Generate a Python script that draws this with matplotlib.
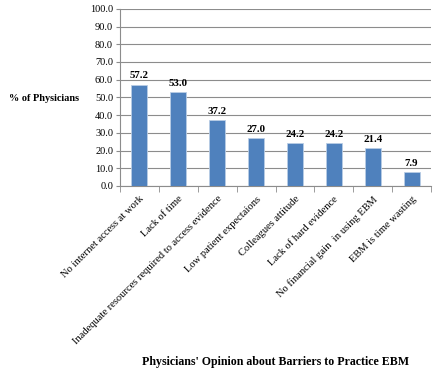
import matplotlib
matplotlib.use("Agg")
import matplotlib.pyplot as plt
import numpy as np

plt.rcParams['font.family'] = ['Liberation Serif', 'DejaVu Serif']

barriers = ["No internet access at work", "Lack of time",
            "Inadequate resources required to access evidence",
            "Low patient expectaions", "Colleagues attitude",
            "Lack of hard evidence", "No financial gain  in using EBM",
            "EBM is time wasting"]
percent = [57.2, 53.0, 37.2, 27.0, 24.2, 24.2, 21.4, 7.9]
yticks = np.arange(0, 101, 10)

fig = plt.figure(figsize=(4.38, 3.69), dpi=100)
ax = fig.add_axes([0.274, 0.496, 0.71, 0.480])

x = np.arange(len(barriers))
bars = ax.bar(x, percent, width=0.41, color="#4F81BD", edgecolor="#B9CDE5",
              linewidth=0.6, zorder=3)
for xi, v in zip(x, percent):
    ax.text(xi, v + 2.5, "%.1f" % v, ha="center", va="bottom",
            fontsize=7.8, fontweight="bold")

ax.set_xlim(-0.5, len(barriers) - 0.5)
ax.set_ylim(0, 100)
ax.set_yticks(yticks)
ax.set_yticklabels(["%.1f" % t for t in yticks], fontsize=7.5)
ax.yaxis.grid(True, color="#8C8C8C", linewidth=0.8, zorder=0)
ax.set_axisbelow(True)

ax.set_xticks(x)
ax.set_xticklabels(barriers, rotation=45, ha="right", rotation_mode="anchor",
                   fontsize=7.6)
ax.tick_params(axis="x", length=0, pad=6)
ax.set_xticks(np.arange(-0.5, len(barriers)), minor=True)
ax.tick_params(axis="x", which="minor", length=4, color="#8C8C8C")
ax.tick_params(axis="y", length=3, color="#8C8C8C", pad=2)

for s in ["top", "right"]:
    ax.spines[s].set_visible(False)
for s in ["left", "bottom"]:
    ax.spines[s].set_color("#8C8C8C")

fig.text(0.1, 0.732, "% of Physicians", ha="center", va="center",
         fontsize=7.4, fontweight="bold")
fig.text(0.63, 0.018, "Physicians' Opinion about Barriers to Practice EBM",
         ha="center", va="center", fontsize=8.6, fontweight="bold")

fig.savefig("out.png", dpi=100)
